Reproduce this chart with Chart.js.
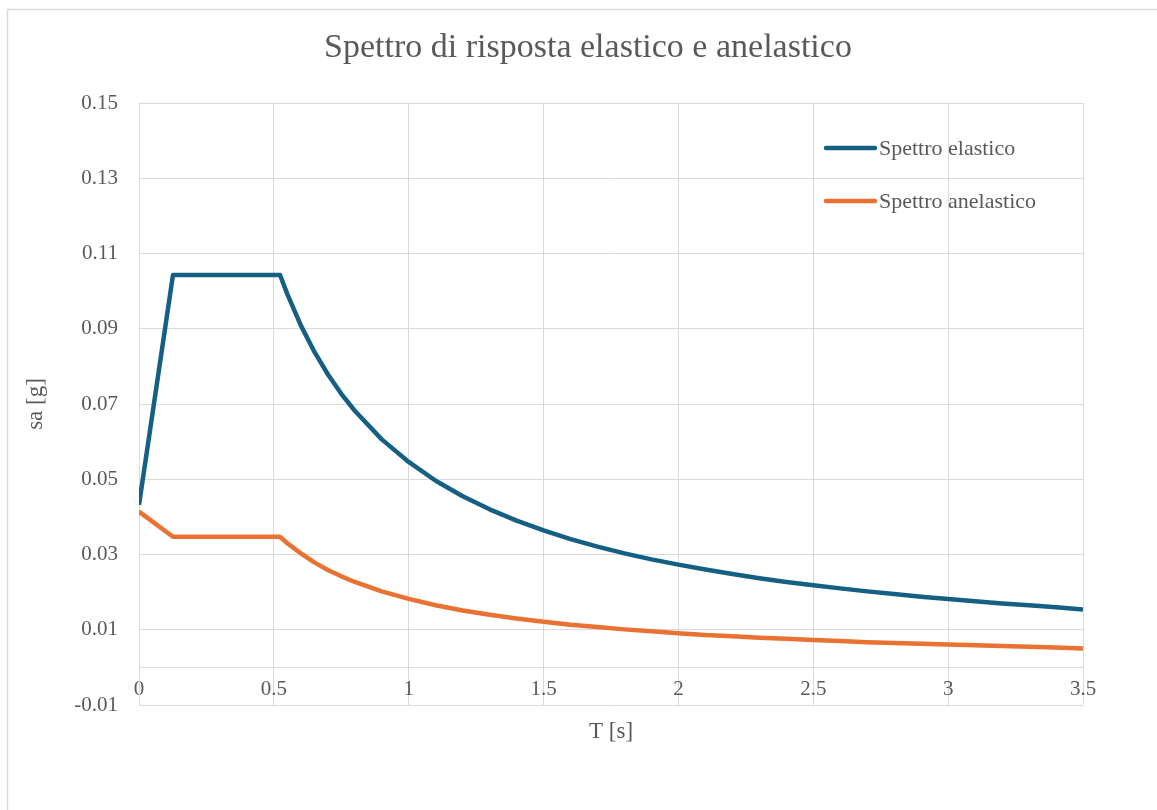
<!DOCTYPE html>
<html><head><meta charset="utf-8">
<script src="https://cdn.jsdelivr.net/npm/chart.js@4/dist/chart.umd.min.js"></script>
<style>html,body{margin:0;padding:0;background:#fff}#wrap{width:1157px;height:810px}</style>
</head><body><div id="wrap"><canvas id="c" width="1157" height="810"></canvas></div>
<script>
const chartTitle = 'Spettro di risposta elastico e anelastico';
const xTitle = 'T [s]';
const yTitle = 'sa [g]';
const seriesNames = ['Spettro elastico', 'Spettro anelastico'];
const periods = [0, 0.126, 0.523, 0.55, 0.6, 0.65, 0.7, 0.75, 0.8,
  0.9, 1.0, 1.1, 1.2, 1.3, 1.4, 1.5, 1.6, 1.7, 1.8, 1.9, 2.0, 2.1, 2.2, 2.3, 2.4,
  2.5, 2.6, 2.7, 2.8, 2.9, 3.0, 3.1, 3.2, 3.3, 3.4, 3.5];
const elastic = [0.0432, 0.1043, 0.1043, 0.0992, 0.0909, 0.0839, 0.0779, 0.0727, 0.0682,
  0.0606, 0.0546, 0.0496, 0.0455, 0.0420, 0.0390, 0.0364, 0.0341, 0.0321, 0.0303, 0.0287,
  0.0273, 0.0260, 0.0248, 0.0237, 0.0227, 0.0218, 0.0210, 0.0202, 0.0195, 0.0188,
  0.0182, 0.0176, 0.0170, 0.0165, 0.0160, 0.0154];
const anelastic = [0.0414, 0.0347, 0.0347, 0.0330, 0.0303, 0.0279, 0.0259, 0.0242, 0.0227,
  0.0202, 0.0182, 0.0165, 0.0151, 0.0140, 0.0130, 0.0121, 0.0113, 0.0107, 0.0101, 0.0096,
  0.0091, 0.0086, 0.0083, 0.0079, 0.0076, 0.0073, 0.0070, 0.0067, 0.0065, 0.0063,
  0.0061, 0.0059, 0.0057, 0.0055, 0.0053, 0.0050];
const xTicks = [0, 0.5, 1, 1.5, 2, 2.5, 3, 3.5];
const yTicks = [-0.01, 0.01, 0.03, 0.05, 0.07, 0.09, 0.11, 0.13, 0.15];
const xTickLabels = ['0', '0.5', '1', '1.5', '2', '2.5', '3', '3.5'];
const yTickLabels = ['-0.01', '0.01', '0.03', '0.05', '0.07', '0.09', '0.11', '0.13', '0.15'];

const FONT = "'Liberation Serif', 'Times New Roman', serif";
const TEXT = '#595959';
const GRID = '#D9D9D9';
const colors = ['#156082', '#E97132'];

const toPts = (ys) => periods.map((t, i) => ({x: t, y: ys[i]}));

const framePlugin = {
  id: 'frame',
  beforeDraw(chart) {
    const ctx = chart.ctx;
    ctx.save();
    ctx.fillStyle = '#fff';
    ctx.fillRect(0, 0, chart.width, chart.height);
    ctx.strokeStyle = GRID;
    ctx.lineWidth = 1.5;
    ctx.strokeRect(7.5, 9.5, chart.width + 50, chart.height + 50);
    ctx.restore();
  },
  afterDraw(chart) {
    const ctx = chart.ctx;
    const a = chart.chartArea;
    ctx.save();
    ctx.fillStyle = TEXT;
    ctx.textBaseline = 'middle';
    // chart title (centred on the chart frame)
    ctx.font = '34px ' + FONT;
    ctx.textAlign = 'center';
    ctx.fillText(chartTitle, 588, 48);
    // x axis title
    ctx.font = '23px ' + FONT;
    ctx.fillText(xTitle, (a.left + a.right) / 2, a.bottom + 27);
    // legend inside plot area
    ctx.font = '22px ' + FONT;
    ctx.textAlign = 'left';
    chart.data.datasets.forEach((ds, i) => {
      const y = a.top + 45 + i * 53;
      const x0 = a.right - 257;
      ctx.strokeStyle = ds.borderColor;
      ctx.lineWidth = 4.5;
      ctx.lineCap = 'round';
      ctx.beginPath();
      ctx.moveTo(x0, y);
      ctx.lineTo(x0 + 49, y);
      ctx.stroke();
      ctx.fillStyle = TEXT;
      ctx.fillText(ds.label, x0 + 53, y + 1);
    });
    ctx.restore();
  }
};

new Chart(document.getElementById('c'), {
  type: 'scatter',
  data: {
    datasets: [
      {label: seriesNames[0], data: toPts(elastic), borderColor: colors[0], backgroundColor: colors[0]},
      {label: seriesNames[1], data: toPts(anelastic), borderColor: colors[1], backgroundColor: colors[1]}
    ]
  },
  options: {
    responsive: false,
    animation: false,
    devicePixelRatio: 1,
    showLine: true,
    elements: {
      point: {radius: 0, hoverRadius: 0},
      line: {borderWidth: 4.5, tension: 0, borderJoinStyle: 'round', borderCapStyle: 'butt'}
    },
    layout: {padding: {left: 0, right: 74, top: 103, bottom: 105}},
    plugins: {
      legend: {display: false},
      tooltip: {enabled: false},
      title: {display: false}
    },
    scales: {
      x: {
        type: 'linear',
        position: {y: 0},
        min: 0, max: 3.5,
        afterBuildTicks: (s) => { s.ticks = xTicks.map(v => ({value: v})); },
        ticks: {
          callback: (v, i) => xTickLabels[i],
          color: TEXT, font: {family: FONT, size: 21}, padding: 10, maxRotation: 0, autoSkip: false
        },
        grid: {color: GRID, lineWidth: 1, drawTicks: false},
        border: {color: GRID, width: 1}
      },
      y: {
        type: 'linear',
        min: -0.01, max: 0.15,
        afterBuildTicks: (s) => { s.ticks = yTicks.map(v => ({value: v})); },
        afterFit: (s) => { s.width = 139; },
        ticks: {
          callback: (v, i) => yTickLabels[i],
          color: TEXT, font: {family: FONT, size: 21}, padding: 21, autoSkip: false
        },
        grid: {color: GRID, lineWidth: 1, drawTicks: false},
        border: {color: GRID, width: 1},
        title: {
          display: true, text: yTitle, color: TEXT,
          font: {family: FONT, size: 23, lineHeight: 1.2},
          padding: {top: 22, bottom: 0}
        }
      }
    }
  },
  plugins: [framePlugin]
});
</script>
</body></html>
